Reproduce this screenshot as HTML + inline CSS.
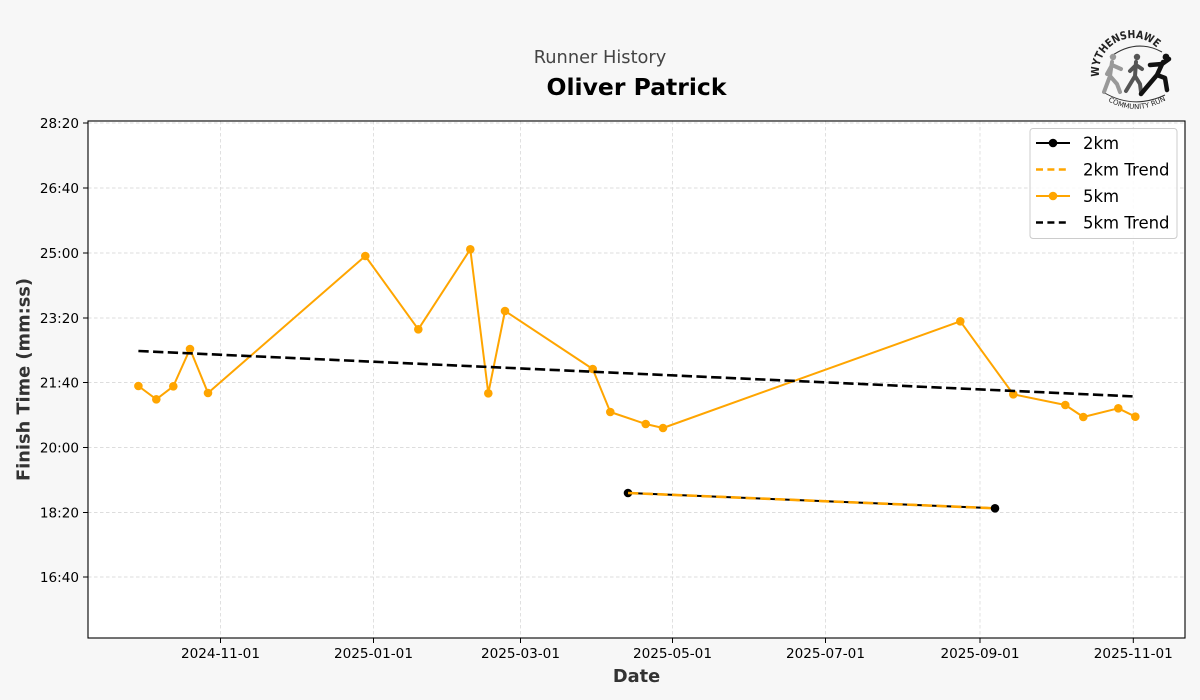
<!DOCTYPE html>
<html>
<head>
<meta charset="utf-8">
<style>
html,body{margin:0;padding:0;background:#f7f7f7;}
svg{display:block;}
text{font-family:"DejaVu Sans","Liberation Sans",sans-serif;}
</style>
</head>
<body>
<svg width="1200" height="700" viewBox="0 0 1200 700" xmlns="http://www.w3.org/2000/svg">
<rect x="0" y="0" width="1200" height="700" fill="#f7f7f7"/>

<!-- titles -->
<text x="600" y="63" font-size="17.8" fill="#444" text-anchor="middle">Runner History</text>
<text x="636.5" y="95" font-size="23.5" font-weight="bold" fill="#000" text-anchor="middle">Oliver Patrick</text>

<!-- logo -->
<g>
  <defs>
    <path id="arcTop" d="M1099.3,76.7 A34,34 0 0 1 1157,48"/>
    <path id="arcBot" d="M1108,101 Q1136,118 1168,99"/>
  </defs>
  <text font-size="11" font-weight="bold" fill="#222" textLength="84" lengthAdjust="spacingAndGlyphs"><textPath href="#arcTop" textLength="84" lengthAdjust="spacingAndGlyphs">WYTHENSHAWE</textPath></text>
  <text font-size="7" fill="#222"><textPath href="#arcBot">COMMUNITY RUN</textPath></text>
  <path d="M1110,57 Q1136,38 1162,52" fill="none" stroke="#333" stroke-width="1"/>
  <path d="M1103,92 Q1133,110 1165,95" fill="none" stroke="#333" stroke-width="1"/>
  <!-- runner 1 light grey -->
  <g stroke="#999" stroke-width="4" fill="none" stroke-linecap="round" stroke-linejoin="round">
    <circle cx="1113" cy="57" r="3.2" fill="#999" stroke="none"/>
    <path d="M1112,62 L1110,76 L1104,92 M1110,76 L1117,84 L1120,92 M1112,65 L1121,69 M1112,65 L1107,74"/>
  </g>
  <!-- runner 2 dark grey -->
  <g stroke="#555" stroke-width="4" fill="none" stroke-linecap="round" stroke-linejoin="round">
    <circle cx="1137" cy="57" r="3.2" fill="#555" stroke="none"/>
    <path d="M1136,62 L1135,76 L1126,91 M1135,76 L1140,84 L1141,92 M1136,65 L1130,71 M1136,65 L1142,69"/>
  </g>
  <!-- runner 3 black -->
  <g stroke="#111" stroke-width="4.5" fill="none" stroke-linecap="round" stroke-linejoin="round">
    <circle cx="1166" cy="57" r="3.4" fill="#111" stroke="none"/>
    <path d="M1163,62 L1157,75 L1146,88 L1141,94 M1157,75 L1165,78 L1167,90 M1162,64 L1150,65 M1162,64 L1169,59"/>
  </g>
</g>

<!-- axes background -->
<rect x="88" y="121" width="1097" height="517" fill="#fff"/>

<!-- grid -->
<g stroke="#dddddd" stroke-width="0.9" stroke-dasharray="3.5,2.5">
  <line x1="88" y1="123" x2="1185" y2="123"/>
  <line x1="88" y1="188" x2="1185" y2="188"/>
  <line x1="88" y1="253" x2="1185" y2="253"/>
  <line x1="88" y1="318" x2="1185" y2="318"/>
  <line x1="88" y1="382.5" x2="1185" y2="382.5"/>
  <line x1="88" y1="447.5" x2="1185" y2="447.5"/>
  <line x1="88" y1="512.5" x2="1185" y2="512.5"/>
  <line x1="88" y1="577" x2="1185" y2="577"/>
  <line x1="220.5" y1="121" x2="220.5" y2="638"/>
  <line x1="373.5" y1="121" x2="373.5" y2="638"/>
  <line x1="520.5" y1="121" x2="520.5" y2="638"/>
  <line x1="672.5" y1="121" x2="672.5" y2="638"/>
  <line x1="825.5" y1="121" x2="825.5" y2="638"/>
  <line x1="980" y1="121" x2="980" y2="638"/>
  <line x1="1133.3" y1="121" x2="1133.3" y2="638"/>
</g>

<!-- 5km series -->
<polyline fill="none" stroke="#FFA500" stroke-width="2" stroke-linejoin="round"
 points="138.4,386 156.3,399.3 173.3,386.3 190,349 208,393 365.3,256 418.3,329.3 470.3,249.3 488.3,393.3 505,311 592.7,369 610.3,412 645.7,424 663,428 960.3,321.3 1013.3,394.3 1065.3,405 1083.3,417 1118.3,408.3 1135.3,416.7"/>
<g fill="#FFA500">
  <circle cx="138.4" cy="386" r="4.3"/><circle cx="156.3" cy="399.3" r="4.3"/><circle cx="173.3" cy="386.3" r="4.3"/>
  <circle cx="190" cy="349" r="4.3"/><circle cx="208" cy="393" r="4.3"/><circle cx="365.3" cy="256" r="4.3"/>
  <circle cx="418.3" cy="329.3" r="4.3"/><circle cx="470.3" cy="249.3" r="4.3"/><circle cx="488.3" cy="393.3" r="4.3"/>
  <circle cx="505" cy="311" r="4.3"/><circle cx="592.7" cy="369" r="4.3"/><circle cx="610.3" cy="412" r="4.3"/>
  <circle cx="645.7" cy="424" r="4.3"/><circle cx="663" cy="428" r="4.3"/><circle cx="960.3" cy="321.3" r="4.3"/>
  <circle cx="1013.3" cy="394.3" r="4.3"/><circle cx="1065.3" cy="405" r="4.3"/><circle cx="1083.3" cy="417" r="4.3"/>
  <circle cx="1118.3" cy="408.3" r="4.3"/><circle cx="1135.3" cy="416.7" r="4.3"/>
</g>

<!-- 5km trend -->
<line x1="138.4" y1="351" x2="1135.3" y2="396.5" stroke="#000" stroke-width="2.6" stroke-dasharray="10.3,4.4"/>

<!-- 2km series -->
<line x1="628" y1="493" x2="995" y2="508.3" stroke="#000" stroke-width="2"/>
<circle cx="628" cy="493" r="4.3" fill="#000"/>
<circle cx="995" cy="508.3" r="4.3" fill="#000"/>
<!-- 2km trend -->
<line x1="628" y1="493" x2="995" y2="508.3" stroke="#FFA500" stroke-width="2.6" stroke-dasharray="10.3,4.4"/>

<!-- axes frame -->
<rect x="88" y="121" width="1097" height="517" fill="none" stroke="#000" stroke-width="1.1"/>

<!-- y ticks -->
<g stroke="#000" stroke-width="1">
  <line x1="83" y1="123" x2="88" y2="123"/>
  <line x1="83" y1="188" x2="88" y2="188"/>
  <line x1="83" y1="253" x2="88" y2="253"/>
  <line x1="83" y1="318" x2="88" y2="318"/>
  <line x1="83" y1="382.5" x2="88" y2="382.5"/>
  <line x1="83" y1="447.5" x2="88" y2="447.5"/>
  <line x1="83" y1="512.5" x2="88" y2="512.5"/>
  <line x1="83" y1="577" x2="88" y2="577"/>
</g>
<g font-size="13.6" fill="#000" text-anchor="end">
  <text x="79" y="128">28:20</text>
  <text x="79" y="193">26:40</text>
  <text x="79" y="258">25:00</text>
  <text x="79" y="323">23:20</text>
  <text x="79" y="387.5">21:40</text>
  <text x="79" y="452.5">20:00</text>
  <text x="79" y="517.5">18:20</text>
  <text x="79" y="582">16:40</text>
</g>

<!-- x ticks -->
<g stroke="#000" stroke-width="1">
  <line x1="220.5" y1="638" x2="220.5" y2="643"/>
  <line x1="373.5" y1="638" x2="373.5" y2="643"/>
  <line x1="520.5" y1="638" x2="520.5" y2="643"/>
  <line x1="672.5" y1="638" x2="672.5" y2="643"/>
  <line x1="825.5" y1="638" x2="825.5" y2="643"/>
  <line x1="980" y1="638" x2="980" y2="643"/>
  <line x1="1133.3" y1="638" x2="1133.3" y2="643"/>
</g>
<g font-size="13.6" fill="#000" text-anchor="middle">
  <text x="220.5" y="658">2024-11-01</text>
  <text x="373.5" y="658">2025-01-01</text>
  <text x="520.5" y="658">2025-03-01</text>
  <text x="672.5" y="658">2025-05-01</text>
  <text x="825.5" y="658">2025-07-01</text>
  <text x="980" y="658">2025-09-01</text>
  <text x="1133.3" y="658">2025-11-01</text>
</g>

<!-- axis labels -->
<text x="636.5" y="682" font-size="17.8" font-weight="bold" fill="#333" text-anchor="middle">Date</text>
<text transform="translate(29.5,379.5) rotate(-90)" font-size="17.8" font-weight="bold" fill="#333" text-anchor="middle">Finish Time (mm:ss)</text>

<!-- legend -->
<rect x="1030" y="128.5" width="147" height="110" rx="3" ry="3" fill="#fff" fill-opacity="0.85" stroke="#cccccc" stroke-width="1"/>
<line x1="1036" y1="143" x2="1070" y2="143" stroke="#000" stroke-width="2"/>
<circle cx="1053" cy="143" r="4.3" fill="#000"/>
<line x1="1036" y1="169.5" x2="1070" y2="169.5" stroke="#FFA500" stroke-width="2.6" stroke-dasharray="7,4.4"/>
<line x1="1036" y1="196" x2="1070" y2="196" stroke="#FFA500" stroke-width="2"/>
<circle cx="1053" cy="196" r="4.3" fill="#FFA500"/>
<line x1="1036" y1="222.5" x2="1070" y2="222.5" stroke="#000" stroke-width="2.6" stroke-dasharray="7,4.4"/>
<g font-size="16.5" fill="#000">
  <text x="1083" y="149">2km</text>
  <text x="1083" y="175.5">2km Trend</text>
  <text x="1083" y="202">5km</text>
  <text x="1083" y="228.5">5km Trend</text>
</g>
</svg>
</body>
</html>
